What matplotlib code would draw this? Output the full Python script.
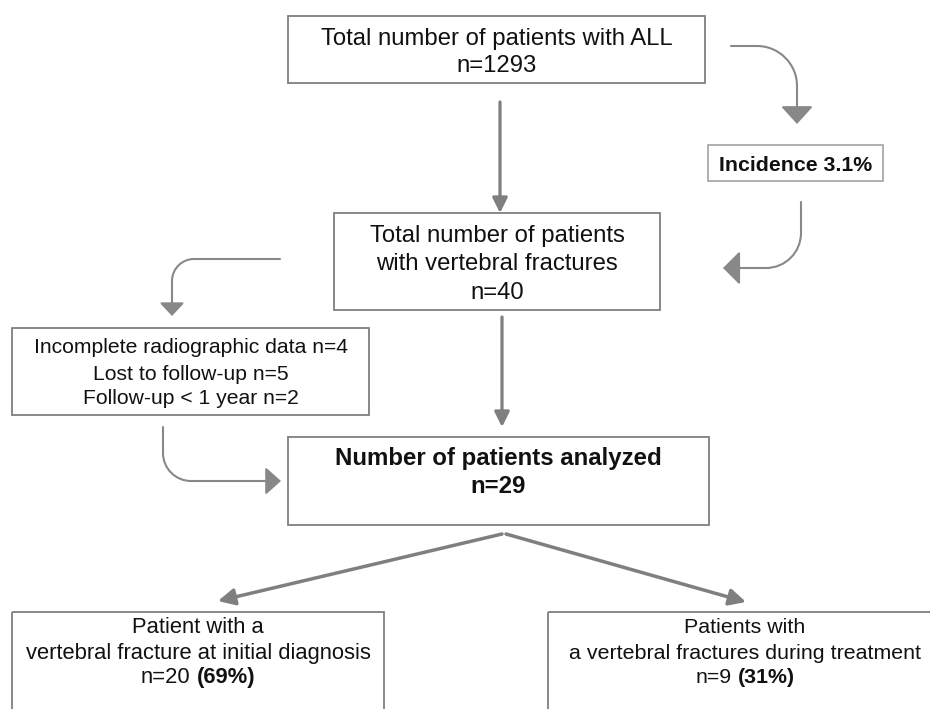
import matplotlib.pyplot as plt
import matplotlib as mpl
from matplotlib.patches import Rectangle, FancyArrowPatch
from matplotlib.path import Path

mpl.rcParams["font.family"] = "Liberation Sans"

# flowchart numbers
total_all = 1293
incidence_pct = 3.1
total_vf = 40
excluded_labels = ["Incomplete radiographic data", "Lost to follow-up", "Follow-up < 1 year"]
excluded_n = [4, 5, 2]
analyzed_n = 29
group_lines = [["Patient with a", "vertebral fracture at initial diagnosis"],
               ["Patients with", "a vertebral fractures during treatment"]]
group_n = [20, 9]
group_pct = [69, 31]

LINE = "#7f7f7f"
TXT = "#111111"

fig = plt.figure(figsize=(9.3, 7.09), dpi=100)
ax = fig.add_axes([0, 0, 1, 1])
ax.set_xlim(0, 930)
ax.set_ylim(709, 0)
ax.axis("off")


def box(x0, y0, x1, y1, ec=LINE, lw=1.3):
    ax.add_patch(Rectangle((x0, y0), x1 - x0, y1 - y0, fill=False, ec=ec, lw=lw))


def lines(xc, ys, texts, size, weight="normal"):
    # ys are baselines
    for y, s in zip(ys, texts):
        ax.text(xc, y, s, ha="center", va="baseline", fontsize=size,
                fontweight=weight, color=TXT)


def mixed(xc, y, parts, size):
    r = fig.canvas.get_renderer()
    gap = 0.278 * size / 0.72
    objs, widths = [], []
    for s, w in parts:
        t = ax.text(0, y, s, ha="left", va="baseline", fontsize=size,
                    fontweight=w, color=TXT)
        objs.append(t)
        widths.append(t.get_window_extent(r).width)
    total = sum(widths) + gap * (len(parts) - 1)
    x = xc - total / 2
    for t, w in zip(objs, widths):
        t.set_x(x)
        x += w + gap


def straight(p0, p1, lw=2.3, hl=0.9, hw=0.45):
    a = FancyArrowPatch(p0, p1, arrowstyle=f"-|>,head_length={hl},head_width={hw}",
                        mutation_scale=10, color=LINE, lw=lw, shrinkA=0, shrinkB=0)
    ax.add_patch(a)


def bent(start, corner, end, r, hl, hw):
    # one leg, rounded corner, second leg, arrow head at end
    (sx, sy), (cx, cy), (ex, ey) = start, corner, end
    def toward(px, py, qx, qy, d):
        dx, dy = qx - px, qy - py
        n = (dx * dx + dy * dy) ** 0.5
        return px + dx / n * d, py + dy / n * d
    a = toward(cx, cy, sx, sy, r)
    b = toward(cx, cy, ex, ey, r)
    k = 0.5523
    c1 = (a[0] + (cx - a[0]) * k, a[1] + (cy - a[1]) * k)
    c2 = (b[0] + (cx - b[0]) * k, b[1] + (cy - b[1]) * k)
    verts = [start, a, c1, c2, b, end]
    codes = [Path.MOVETO, Path.LINETO, Path.CURVE4, Path.CURVE4, Path.CURVE4, Path.LINETO]
    p = FancyArrowPatch(path=Path(verts, codes),
                        arrowstyle=f"-|>,head_length={hl},head_width={hw}",
                        mutation_scale=10, color="#888888", lw=1.5)
    ax.add_patch(p)


# boxes
box(288, 16, 705, 83)
lines(496.5, [45, 72], ["Total number of patients with ALL", f"n={total_all}"], 17.2)

box(708, 145, 883, 181, ec="#9a9a9a", lw=1.1)
lines(795.5, [171], [f"Incidence {incidence_pct}%"], 15.3, "bold")

box(334, 213, 660, 310)
lines(497, [242, 270, 299],
      ["Total number of patients", "with vertebral fractures", f"n={total_vf}"], 17.2)

box(12, 328, 369, 415)
lines(190.5, [353, 380, 404],
      [f"{l} n={n}" for l, n in zip(excluded_labels, excluded_n)], 15.2)

box(288, 437, 709, 525)
lines(498.5, [465, 493], ["Number of patients analyzed", f"n={analyzed_n}"], 17.3, "bold")

# bottom boxes (right one runs off the edge)
for (x0, x1), xc, fs, txt, n, pct in zip([(12, 384), (548, 942)], [198, 745], [15.8, 15.4],
                                         group_lines, group_n, group_pct):
    box(x0, 612, x1, 760)
    lines(xc, [633, 659], txt, fs)
    mixed(xc, 683, [(f"n={n}", "normal"), (f"({pct}%)", "bold")], fs)

# straight arrows
straight((500, 102), (500, 213))
straight((502, 317), (502, 427))
straight((502, 534), (218, 601), lw=2.5, hl=1.0, hw=0.5)
straight((506, 534), (746, 602), lw=2.5, hl=1.0, hw=0.5)

# bent arrows
bent((731, 46), (797, 46), (797, 124), 40, 1.1, 1.0)
bent((801, 202), (801, 268), (723, 268), 35, 1.05, 1.05)
bent((280, 259), (172, 259), (172, 316), 22, 0.8, 0.75)
bent((163, 427), (163, 481), (281, 481), 28, 0.95, 0.85)

fig.savefig("out.png", dpi=100)
